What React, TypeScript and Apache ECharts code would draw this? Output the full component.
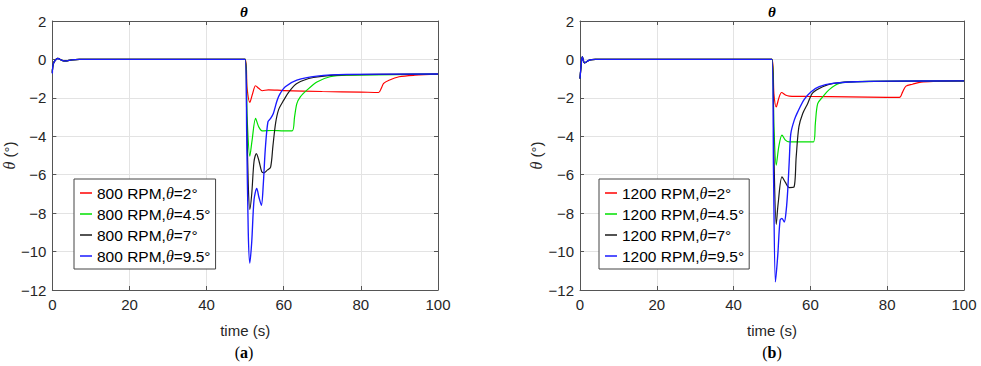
import React, { useEffect, useRef } from "react";
import * as echarts from "echarts";

type Pt = [number, number];

// time (s), theta (deg)
const red800: Pt[] = [[0,-0.7],[0.3,-0.2],[1.4,0.05],[2.5,-0.05],[3.4,-0.08],[5,-0.02],[7,0],[50,0],[50.5,-1.5],[51.2,-2.24],[51.9,-1.8],[52.7,-1.37],[53.5,-1.5],[54.4,-1.63],[56,-1.58],[60,-1.62],[70,-1.67],[80,-1.7],[84.6,-1.72],[85.3,-1.5],[85.9,-1.25],[87.3,-1.08],[89.9,-0.9],[94,-0.82],[100,-0.77]];
const green800: Pt[] = [[0,-0.7],[0.3,-0.2],[1.4,0.05],[2.5,-0.05],[3.4,-0.08],[5,-0.02],[7,0],[50,0],[50.5,-3],[51.2,-5.04],[51.8,-4.2],[52.7,-3.07],[53.5,-3.5],[54.4,-3.72],[57,-3.7],[60,-3.72],[62.2,-3.72],[62.8,-3],[63.4,-2.3],[64.3,-1.95],[66,-1.6],[68.6,-1.17],[72,-0.9],[76.3,-0.82],[100,-0.76]];
const black800: Pt[] = [[0,-0.7],[0.3,-0.2],[1.4,0.05],[2.5,-0.05],[3.4,-0.08],[5,-0.02],[7,0],[50,0],[50.4,-3],[50.8,-6.5],[51.2,-7.81],[51.7,-7],[52.3,-5.3],[52.9,-4.9],[53.6,-5.3],[54.3,-5.85],[54.9,-5.9],[55.8,-5.75],[56.6,-5.6],[57.2,-4.5],[57.9,-3.3],[58.7,-2.6],[60,-2.12],[61.3,-1.7],[63.4,-1.25],[67.7,-0.94],[75,-0.8],[100,-0.76]];
const blue800: Pt[] = [[0,-0.73],[0.3,-0.2],[1.4,0.05],[2.5,-0.05],[3.4,-0.09],[5,-0.02],[7,0],[50,0],[50.4,-4],[50.8,-9],[51.2,-10.6],[51.7,-9.5],[52.3,-7.3],[53,-6.72],[53.6,-7.2],[54.2,-7.59],[54.7,-6.5],[55.2,-4.72],[55.9,-3.25],[56.6,-3.07],[57.3,-2.81],[58.3,-2.12],[59.1,-1.77],[60.4,-1.42],[63.4,-1.08],[68.6,-0.87],[76.3,-0.78],[100,-0.76]];

const red1200: Pt[] = [[0,-1.0],[0.3,-0.3],[0.6,0.14],[1.2,-0.18],[2.5,-0.03],[4,0],[50,0],[50.5,-1.8],[51.1,-2.47],[51.8,-2.0],[52.5,-1.72],[53.5,-1.85],[54.5,-1.91],[60,-1.93],[70,-1.95],[80,-1.97],[83.2,-1.98],[84,-1.7],[84.9,-1.39],[86.6,-1.29],[88.8,-1.18],[92,-1.14],[100,-1.12]];
const green1200: Pt[] = [[0,-1.0],[0.3,-0.3],[0.6,0.14],[1.2,-0.18],[2.5,-0.03],[4,0],[50,0],[50.5,-3.5],[51.1,-5.5],[51.8,-4.5],[52.6,-3.94],[53.5,-4.2],[54.5,-4.29],[58,-4.29],[60.8,-4.29],[61.3,-3.3],[61.9,-2.3],[63.2,-1.95],[64.9,-1.57],[67.5,-1.25],[71.9,-1.16],[100,-1.12]];
const black1200: Pt[] = [[0,-1.0],[0.3,-0.3],[0.6,0.14],[1.2,-0.18],[2.5,-0.03],[4,0],[50,0],[50.5,-5],[51.1,-8.58],[51.6,-7.5],[52.6,-6.11],[53.5,-6.4],[54.5,-6.67],[55.7,-6.65],[56.3,-5.07],[57,-3.51],[58,-2.81],[59.3,-2.29],[60.6,-1.74],[63.2,-1.42],[66,-1.25],[72,-1.16],[100,-1.12]];
const blue1200: Pt[] = [[0,-1.0],[0.3,-0.3],[0.6,0.14],[1.2,-0.18],[2.5,-0.03],[4,0],[50,0],[50.4,-6],[50.9,-11.58],[51.5,-10.2],[52.1,-8.37],[52.6,-8.28],[53.2,-8.46],[53.7,-7.85],[54.1,-6.8],[54.5,-5.25],[54.9,-3.86],[55.8,-3.16],[56.7,-2.73],[58.4,-2.08],[60.2,-1.68],[62.3,-1.42],[65.8,-1.25],[71.9,-1.16],[80,-1.13],[100,-1.12]];

const names800 = ["800 RPM,θ=2°", "800 RPM,θ=4.5°", "800 RPM,θ=7°", "800 RPM,θ=9.5°"];
const names1200 = ["1200 RPM,θ=2°", "1200 RPM,θ=4.5°", "1200 RPM,θ=7°", "1200 RPM,θ=9.5°"];
const colors = ["#ff0000", "#00e000", "#1a1a1a", "#1a1aff"];
const widths = [1.2, 1.2, 1.2, 1.35];

const X_MIN = 0, X_MAX = 100, X_INT = 20;
const Y_MIN = -12, Y_MAX = 2, Y_INT = 2;

const SANS = '"Liberation Sans", Arial, sans-serif';
const SERIF = '"Liberation Serif", "DejaVu Serif", serif';

export default function App() {
  const ref = useRef<HTMLDivElement>(null);
  useEffect(() => {
    document.body.style.margin = "0";
    const chart = echarts.init(ref.current!, undefined, { renderer: "svg" });
    const grids = [
      { left: 50, top: 21, width: 388, height: 269 },
      { left: 580, top: 21, width: 384, height: 269 },
    ];
    const axisLine = { show: true, onZero: false, lineStyle: { color: "#555", width: 1 } };
    const tick = { show: true, inside: true, length: 4, lineStyle: { color: "#555" } };
    const xAxes: any[] = [];
    const yAxes: any[] = [];
    [0, 1].forEach((g) => {
      xAxes.push({
        type: "value", gridIndex: g, min: X_MIN, max: X_MAX, interval: X_INT, position: "bottom",
        axisLine, axisTick: tick,
        axisLabel: { color: "#262626", fontSize: 15, fontFamily: SANS, margin: 7 },
        splitLine: { show: true, lineStyle: { color: "#e3e3e3", width: 1 } },
        name: "time (s)", nameLocation: "middle", nameGap: 33,
        nameTextStyle: { color: "#262626", fontSize: 15, fontFamily: SANS },
      });
      xAxes.push({
        type: "value", gridIndex: g, min: X_MIN, max: X_MAX, interval: X_INT, position: "top",
        axisLine, axisTick: tick,
        axisLabel: { show: false }, splitLine: { show: false },
      });
      yAxes.push({
        type: "value", gridIndex: g, min: Y_MIN, max: Y_MAX, interval: Y_INT, position: "left",
        axisLine, axisTick: tick,
        axisLabel: { color: "#262626", fontSize: 15, fontFamily: SANS, margin: 6,
          formatter: (v: number) => String(v).replace("-", "−") },
        splitLine: { show: true, lineStyle: { color: "#e3e3e3", width: 1 } },
        name: "{i|θ} (°)", nameLocation: "middle", nameGap: 24, nameRotate: 90,
        nameTextStyle: { color: "#262626", fontSize: 15, fontFamily: SANS,
          rich: { i: { fontStyle: "italic", fontFamily: SERIF, fontSize: 16, color: "#262626" } } },
      });
      yAxes.push({
        type: "value", gridIndex: g, min: Y_MIN, max: Y_MAX, interval: Y_INT, position: "right",
        axisLine, axisTick: tick,
        axisLabel: { show: false }, splitLine: { show: false },
      });
    });
    const data800 = [red800, green800, black800, blue800];
    const data1200 = [red1200, green1200, black1200, blue1200];
    const series: any[] = [];
    data800.forEach((d, i) => series.push({
      type: "line", name: names800[i], data: d, xAxisIndex: 0, yAxisIndex: 0, z: 2 + i,
      showSymbol: false, smooth: 0.3, color: colors[i], lineStyle: { width: widths[i], color: colors[i] },
    }));
    data1200.forEach((d, i) => series.push({
      type: "line", name: names1200[i], data: d, xAxisIndex: 2, yAxisIndex: 2, z: 2 + i,
      showSymbol: false, smooth: 0.3, color: colors[i], lineStyle: { width: widths[i], color: colors[i] },
    }));
    const legendBase = {
      orient: "vertical", icon: "rect", itemWidth: 12, itemHeight: 1.5, itemGap: 5,
      padding: [6, 5, 5, 6], backgroundColor: "#fff", borderColor: "#444", borderWidth: 1,
      formatter: (n: string) => n.replace("θ", "{i|θ}"),
      textStyle: { color: "#000", fontSize: 15.5, fontFamily: SANS, lineHeight: 16,
        rich: { i: { fontStyle: "italic", fontFamily: SERIF, fontSize: 16, color: "#000" } } },
    };
    const titleFont = `italic bold 15px ${SERIF}`;
    chart.setOption({
      animation: false,
      grid: grids,
      xAxis: xAxes,
      yAxis: yAxes,
      series,
      legend: [
        { ...legendBase, data: names800, left: 74, top: 179 },
        { ...legendBase, data: names1200, left: 599, top: 179 },
      ],
      graphic: [
        { type: "text", x: 244, y: 12, style: { text: "θ", font: titleFont, fill: "#000", align: "center", verticalAlign: "middle" } },
        { type: "text", x: 772, y: 12, style: { text: "θ", font: titleFont, fill: "#000", align: "center", verticalAlign: "middle" } },
        { type: "text", x: 244, y: 352, style: { text: "({b|a})", fontSize: 16, fontFamily: SERIF, fill: "#000", align: "center", verticalAlign: "middle", rich: { b: { fontWeight: "bold", fontSize: 16, fontFamily: SERIF } } } },
        { type: "text", x: 772, y: 352, style: { text: "({b|b})", fontSize: 16, fontFamily: SERIF, fill: "#000", align: "center", verticalAlign: "middle", rich: { b: { fontWeight: "bold", fontSize: 16, fontFamily: SERIF } } } },
      ],
    });
    return () => chart.dispose();
  }, []);
  return <div ref={ref} style={{ width: 981, height: 366 }} />;
}
